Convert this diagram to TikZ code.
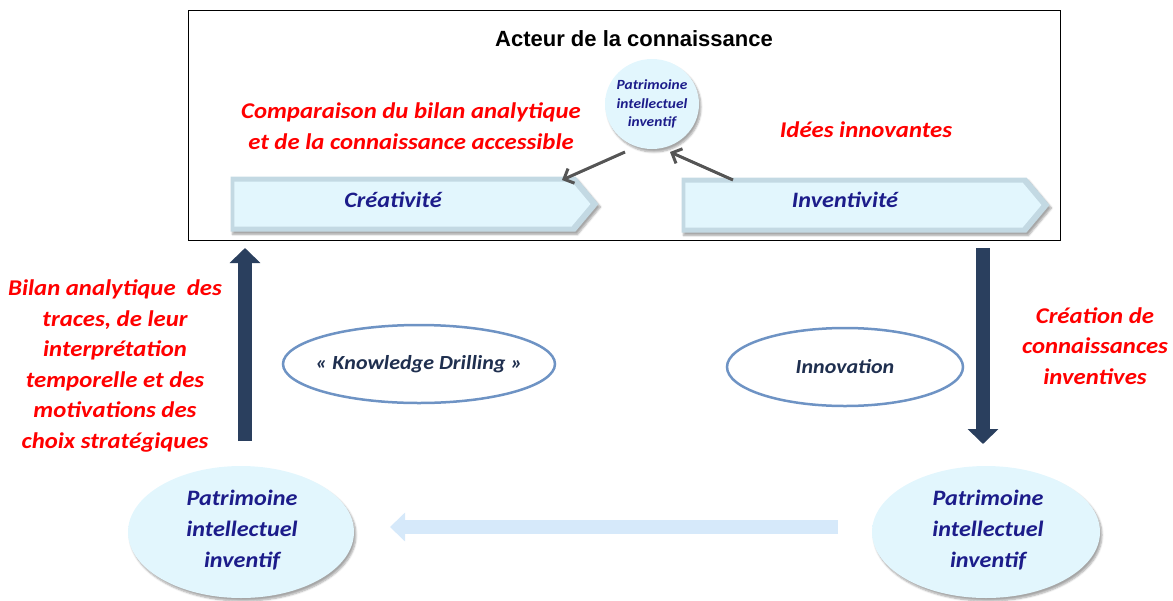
\documentclass[tikz,border=0pt]{standalone}
\usepackage{fontspec}
\setmainfont{Carlito}
\newfontfamily\calw[FakeStretch=1.1]{Carlito}
\newfontfamily\titlefont{Liberation Sans}
\usetikzlibrary{arrows.meta,shapes.geometric,shapes.symbols,shadows.blur}
\definecolor{redtxt}{HTML}{FF0000}
\definecolor{navytxt}{HTML}{1C1C8A}
\definecolor{slatetxt}{HTML}{1F2F4F}
\definecolor{bigarr}{HTML}{2A3F5E}
\definecolor{ellline}{HTML}{6E93C4}
\definecolor{cyanfill}{HTML}{E2F6FD}
\definecolor{cyanmid}{HTML}{D2E9F1}
\definecolor{cyanedge}{HTML}{B2C8D0}
\definecolor{cyandark}{HTML}{9FB2B8}
\definecolor{bevel}{HTML}{C3D9E3}
\definecolor{lightarr}{HTML}{D6E9FA}
\definecolor{grayarr}{HTML}{555555}
\pgfdeclareradialshading{pball}{\pgfpoint{0bp}{8bp}}{color(0bp)=(cyanfill); color(34bp)=(cyanfill); color(44bp)=(cyanmid); color(52bp)=(cyanedge); color(60bp)=(cyandark)}
\tikzset{
  redlabel/.style={text=redtxt, font=\calw\fontsize{22.5}{30.5}\selectfont\bfseries\itshape, align=center, inner sep=0},
  navylabel/.style={text=navytxt, font=\calw\fontsize{22}{31}\selectfont\bfseries\itshape, align=center, inner sep=0},
  pellipse/.style={ellipse, inner sep=0, shade, shading=pball,
    blur shadow={shadow blur steps=6, shadow xshift=2pt, shadow yshift=-3pt, shadow opacity=35}},
  signalbox/.style={signal, signal to=east, signal from=nowhere, signal pointer angle=100,
    minimum width=368, minimum height=55, inner sep=0, fill=bevel,
    blur shadow={shadow blur steps=5, shadow xshift=2pt, shadow yshift=-3pt, shadow opacity=35}},
  signalface/.style={signal, signal to=east, signal from=nowhere, signal pointer angle=100,
    minimum width=356, minimum height=45, inner sep=0, fill=cyanfill},
  ovalframe/.style={ellipse, draw=ellline, line width=2.5, fill=white, inner sep=0},
  ovaltext/.style={text=slatetxt, font=\calw\fontsize{20}{24}\selectfont\bfseries\itshape, inner sep=0},
  bigarrow/.style={draw=bigarr, line width=14, -{Triangle[length=15pt,width=30pt]}},
  lightarrow/.style={draw=lightarr, line width=14, -{Triangle[length=15pt,width=28pt]}},
  grayarrow/.style={draw=grayarr, line width=3, -{Straight Barb[length=8pt,width=16pt]}},
}
\begin{document}
\begin{tikzpicture}[x=1pt,y=-1pt]
\useasboundingbox (0,0) rectangle (1173,600);
% outer frame
\node[draw=black, line width=1, minimum width=872, minimum height=230, inner sep=0] (frame) at (624,125) {};
\node[font=\titlefont\fontsize{22}{26}\selectfont\bfseries, inner sep=0] (title) at (634,39) {Acteur de la connaissance};
% signal boxes
\node[signalbox] (creaBox) at (403,204) {};
\node[signalface] (creaFace) at (403,204) {};
\node[navylabel] (crea) at (393,200) {Créativité};
\node[signalbox] (invBox) at (854,205) {};
\node[signalface] (invFace) at (854,205) {};
\node[navylabel] (inv) at (845,200) {Inventivité};
% small circle
\node[pellipse, minimum width=94, minimum height=90] (pSmall) at (652,104) {};
\node[text=navytxt, font=\calw\fontsize{14}{18.5}\selectfont\bfseries\itshape, align=center, inner sep=0] (pSmallT) at (652,104) {Patrimoine\\intellectuel\\inventif};
% red labels
\node[redlabel] (comp) at (411,126) {Comparaison du bilan analytique\\et de la connaissance accessible};
\node[redlabel] (idees) at (866,130) {Idées innovantes};
\node[redlabel] (bilan) at (115,366) {Bilan analytique\ \ des\\traces, de leur\\interprétation\\temporelle et des\\motivations des\\choix stratégiques};
\node[redlabel] (creation) at (1095,346) {Création de\\connaissances\\inventives};
% gray arrows
\coordinate (g1s) at (625,152);
\coordinate (g1e) at (562,180);
\coordinate (g2s) at (733,180);
\coordinate (g2e) at (670,152);
\draw[grayarrow] (g1s) -- (g1e);
\draw[grayarrow] (g2s) -- (g2e);
% ovals
\node[ovalframe, minimum width=272, minimum height=78] (kd) at (419,364) {};
\node[ovaltext] (kdT) at (419,364) {« Knowledge Drilling »};
\node[ovalframe, minimum width=236, minimum height=78] (innov) at (845,367) {};
\node[ovaltext] (innovT) at (845,367) {Innovation};
% big patrimoine ellipses
\node[pellipse, minimum width=226, minimum height=132] (pLeft) at (241,532) {};
\node[navylabel] (pLeftT) at (242,530) {Patrimoine\\intellectuel\\inventif};
\node[pellipse, minimum width=228, minimum height=132] (pRight) at (986,532) {};
\node[navylabel] (pRightT) at (988,530) {Patrimoine\\intellectuel\\inventif};
% big arrows
\coordinate (upS) at (245,441);
\coordinate (upE) at (245,248);
\coordinate (dnS) at (983,248);
\coordinate (dnE) at (983,444);
\draw[bigarrow] (upS) -- (upE);
\draw[bigarrow] (dnS) -- (dnE);
% light arrow
\coordinate (laS) at (838,527);
\coordinate (laE) at (390,527);
\draw[lightarrow] (laS) -- (laE);
\end{tikzpicture}
\end{document}
